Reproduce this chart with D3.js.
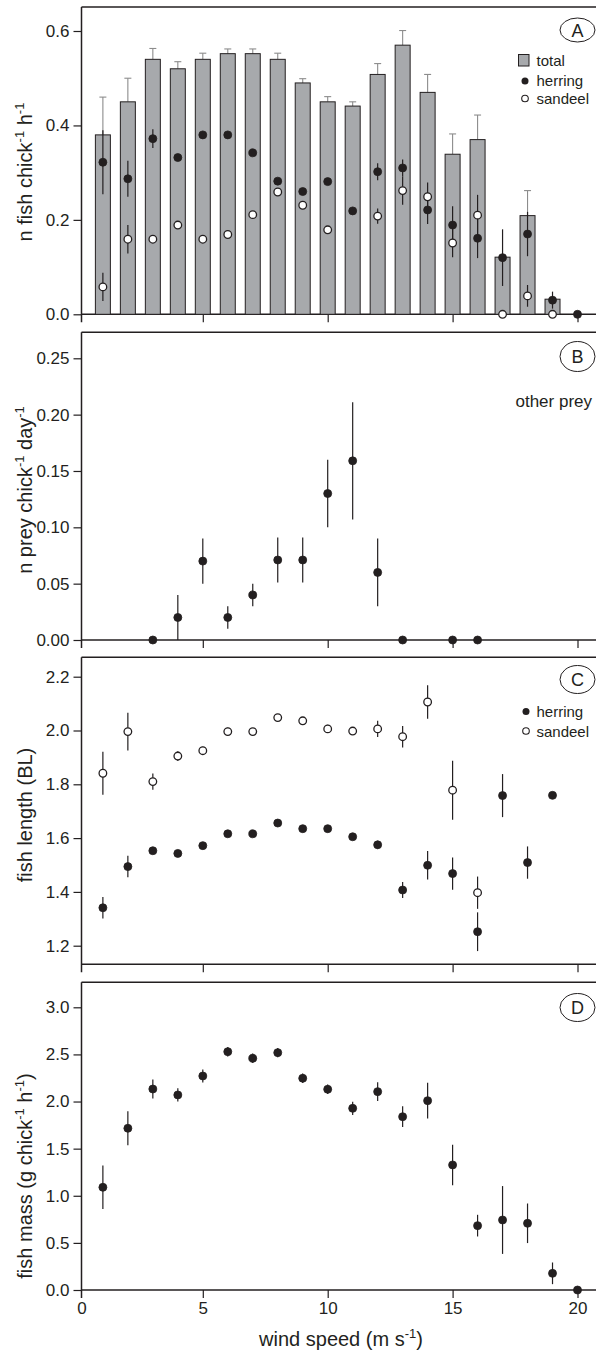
<!DOCTYPE html>
<html><head><meta charset="utf-8">
<script src="https://cdn.jsdelivr.net/npm/d3@7"></script>
<style>
html,body{margin:0;padding:0;background:#fff;}
svg{display:block;}
text{font-family:'Liberation Sans',Arial,Helvetica,sans-serif;fill:#231f20;}
</style></head>
<body>
<svg id="chart" width="596" height="1352"></svg>
<script>
// ---------- DATA ----------
// Panel A: total fish (bars, upper SE), herring and sandeel (points)
const totalWind = [1,2,3,4,5,6,7,8,9,10,11,12,13,14,15,16,17,18,19];
const totalMean = [0.38,0.45,0.54,0.52,0.54,0.552,0.552,0.54,0.49,0.45,0.441,0.508,0.57,0.47,0.339,0.37,0.121,0.209,0.032];
const totalErr  = [0.08,0.05,0.023,0.015,0.013,0.01,0.01,0.013,0.009,0.011,0.009,0.023,0.031,0.038,0.043,0.052,0,0.053,0];

const herringAWind = [1,2,3,4,5,6,7,8,9,10,11,12,13,14,15,16,17,18,19,20];
const herringAMean = [0.322,0.287,0.372,0.332,0.38,0.38,0.342,0.282,0.26,0.281,0.219,0.302,0.31,0.221,0.189,0.161,0.12,0.17,0.03,0.0];
const herringAErr  = [0.068,0.038,0.02,0.006,0.006,0.006,0.006,0.006,0.006,0.006,0.005,0.018,0.018,0.03,0.04,0.042,0.06,0.047,0.018,0];

const sandeelAWind = [1,2,3,4,5,6,7,8,9,10,12,13,14,15,16,17,18,19];
const sandeelAMean = [0.058,0.159,0.159,0.189,0.159,0.169,0.211,0.259,0.231,0.179,0.208,0.262,0.249,0.151,0.21,0.0,0.039,0.0];
const sandeelAErr  = [0.03,0.03,0.005,0.005,0.005,0.005,0.005,0.005,0.005,0.005,0.016,0.03,0.03,0.03,0.043,0,0.023,0];

// Panel B: other prey
const otherWind = [3,4,5,6,7,8,9,10,11,12,13,15,16];
const otherMean = [0,0.02,0.07,0.02,0.04,0.071,0.071,0.13,0.159,0.06,0,0,0];
const otherErr  = [0,0.02,0.02,0.01,0.01,0.02,0.02,0.03,0.052,0.03,0,0,0];

// Panel C: fish length (BL)
const herringLenWind = [1,2,3,4,5,6,7,8,9,10,11,12,13,14,15,16,17,18,19];
const herringLenMean = [1.341,1.494,1.553,1.543,1.572,1.616,1.616,1.656,1.635,1.635,1.605,1.575,1.407,1.499,1.468,1.252,1.758,1.509,1.759];
const herringLenErr  = [0.04,0.04,0.01,0.01,0.01,0.01,0.01,0.01,0.01,0.01,0.01,0.015,0.03,0.053,0.06,0.072,0.08,0.06,0];

const sandeelLenWind = [1,2,3,4,5,6,7,8,9,10,11,12,13,14,15,16];
const sandeelLenMean = [1.841,1.996,1.81,1.905,1.925,1.996,1.996,2.048,2.036,2.006,1.998,2.006,1.977,2.106,1.778,1.397];
const sandeelLenErr  = [0.08,0.07,0.03,0.018,0.015,0.015,0.01,0.005,0.005,0.015,0.012,0.03,0.04,0.062,0.11,0.06];

// Panel D: fish mass
const massWind = [1,2,3,4,5,6,7,8,9,10,11,12,13,14,15,16,17,18,19,20];
const massMean = [1.09,1.716,2.133,2.07,2.271,2.529,2.459,2.519,2.247,2.13,1.928,2.105,1.839,2.009,1.327,0.683,0.743,0.708,0.177,0.0];
const massErr  = [0.23,0.18,0.1,0.07,0.07,0.05,0.05,0.05,0.05,0.05,0.07,0.1,0.11,0.19,0.215,0.115,0.36,0.21,0.115,0];

// Ticks
const xTicks = [0,5,10,15,20];
const aTicks = [0,0.2,0.4,0.6];
const bTicks = [0,0.05,0.10,0.15,0.20,0.25];
const cTicks = [1.2,1.4,1.6,1.8,2.0,2.2];
const dTicks = [0,0.5,1.0,1.5,2.0,2.5,3.0];

// ---------- LAYOUT ----------
const INK = "#231f20";
const BARFILL = "#a7a9ac";
const svg = d3.select("#chart");
const W = 596;
const x = d3.scaleLinear().domain([0,20]).range([77.9,577.5]);
const axisLeftX = 81.5;

const zip = (xs, ms, es) => xs.map((w,i)=>({x:w, y:ms[i], e:es ? es[i] : 0}));

const panels = [
  {key:"A", y:d3.scaleLinear().domain([0,0.6]).range([314.3,31]), top:7, ticks:aTicks, fmt:d3.format(".1f"),
   label:[["n fish chick",0],["-1",1],[" h",0],["-1",1]], labelY:172, ry:12, cy:30},
  {key:"B", y:d3.scaleLinear().domain([0,0.25]).range([640,358.3]), top:332.3, ticks:bTicks, fmt:d3.format(".2f"),
   label:[["n prey chick",0],["-1",1],[" day",0],["-1",1]], labelY:490, ry:15, cy:356.5},
  {key:"C", y:d3.scaleLinear().domain([1.2,2.2]).range([945.7,676.7]), top:657.3, ticks:cTicks, fmt:d3.format(".1f"),
   label:[["fish length (BL)",0]], labelY:815, ry:14, cy:679.5},
  {key:"D", y:d3.scaleLinear().domain([0,3]).range([1290,1007.3]), top:982.3, ticks:dTicks, fmt:d3.format(".1f"),
   label:[["fish mass (g chick",0],["-1",1],[" h",0],["-1",1],[")",0]], labelY:1176, ry:14, cy:1007.5}
];
panels.forEach(p => { p.bottom = p.y(p.ticks[0] === 1.2 ? 1.131 : 0); });
panels[2].bottom = 964.3;

function addRotLabel(g, parts, cx, cy){
  const t = g.append("text").attr("transform",`translate(${cx},${cy}) rotate(-90)`)
    .attr("text-anchor","middle").style("font-size","20px");
  let shifted = false;
  parts.forEach(([s,sup]) => {
    const ts = t.append("tspan").text(s);
    if (sup) { ts.style("font-size","13px").attr("dy", shifted ? 0 : -8); shifted = true; }
    else { if (shifted) { ts.attr("dy", 8); shifted = false; } }
  });
}

function drawFrame(p){
  const g = svg.append("g");
  // top border
  g.append("line").attr("x1",axisLeftX).attr("x2",W).attr("y1",p.top).attr("y2",p.top)
    .attr("stroke",INK).attr("stroke-width",1.5);
  // bottom axis line
  g.append("line").attr("x1",axisLeftX).attr("x2",W).attr("y1",p.bottom).attr("y2",p.bottom)
    .attr("stroke",INK).attr("stroke-width",1.5);
  // left axis line, extended downward like a tick
  g.append("line").attr("x1",axisLeftX).attr("x2",axisLeftX).attr("y1",p.top).attr("y2",p.bottom+8)
    .attr("stroke",INK).attr("stroke-width",1.5);
  // y axis
  const ya = g.append("g").attr("transform",`translate(${axisLeftX},0)`)
    .call(d3.axisLeft(p.y).tickValues(p.ticks).tickFormat(p.fmt).tickSize(8).tickPadding(4));
  ya.select(".domain").remove();
  ya.selectAll("line").attr("stroke",INK).attr("stroke-width",1.2);
  ya.selectAll("text").style("font-size","17px").style("font-family","'Liberation Sans',Arial,sans-serif").attr("fill",INK);
  // x axis ticks
  const xa = g.append("g").attr("transform",`translate(0,${p.bottom})`)
    .call(d3.axisBottom(x).tickValues(xTicks).tickSize(8).tickPadding(4));
  xa.select(".domain").remove();
  xa.selectAll(".tick").filter(d => d === 0).select("line").remove();
  xa.selectAll("line").attr("stroke",INK).attr("stroke-width",1.2);
  if (p.key === "D") {
    xa.selectAll("text").style("font-size","17px").style("font-family","'Liberation Sans',Arial,sans-serif").attr("fill",INK);
    xa.selectAll(".tick").filter(d => d === 0).select("text").attr("x", axisLeftX - x(0));
  } else {
    xa.selectAll("text").remove();
  }
  // y label
  addRotLabel(g, p.label, 32, p.labelY);
  // panel letter
  g.append("ellipse").attr("cx",577.5).attr("cy",p.cy).attr("rx",17.5).attr("ry",p.ry)
    .attr("fill","none").attr("stroke",INK).attr("stroke-width",1);
  g.append("text").attr("x",577.5).attr("y",p.cy+6.5).attr("text-anchor","middle")
    .style("font-size","18px").text(p.key);
  return g;
}

function drawPoints(g, yScale, data, filled, r){
  g.append("g").selectAll("line").data(data.filter(d=>d.e>0)).join("line")
    .attr("x1",d=>x(d.x)).attr("x2",d=>x(d.x))
    .attr("y1",d=>yScale(d.y-d.e)).attr("y2",d=>yScale(d.y+d.e))
    .attr("stroke",INK).attr("stroke-width",1.2);
  g.append("g").selectAll("circle").data(data).join("circle")
    .attr("cx",d=>x(d.x)).attr("cy",d=>yScale(d.y)).attr("r",r)
    .attr("fill",filled?INK:"#fff").attr("stroke",INK).attr("stroke-width",filled?0.8:1.3);
}

// ---------- PANEL A ----------
{
  const p = panels[0];
  const g = drawFrame(p);
  const bars = zip(totalWind,totalMean,totalErr);
  const bw = x(0.3)-x(0);
  // error bars for totals (upper only)
  const eg = g.append("g");
  eg.selectAll("line.v").data(bars.filter(d=>d.e>0)).join("line")
    .attr("x1",d=>x(d.x)).attr("x2",d=>x(d.x)).attr("y1",d=>p.y(d.y)).attr("y2",d=>p.y(d.y+d.e))
    .attr("stroke","#8c8c8c").attr("stroke-width",1.1);
  eg.selectAll("line.c").data(bars.filter(d=>d.e>0)).join("line")
    .attr("x1",d=>x(d.x)-3.5).attr("x2",d=>x(d.x)+3.5).attr("y1",d=>p.y(d.y+d.e)).attr("y2",d=>p.y(d.y+d.e))
    .attr("stroke","#8c8c8c").attr("stroke-width",1.1);
  g.append("g").selectAll("rect").data(bars).join("rect")
    .attr("x",d=>x(d.x)-bw).attr("width",2*bw)
    .attr("y",d=>p.y(d.y)).attr("height",d=>p.y(0)-p.y(d.y))
    .attr("fill",BARFILL).attr("stroke",INK).attr("stroke-width",1);
  drawPoints(g, p.y, zip(herringAWind,herringAMean,herringAErr), true, 4);
  drawPoints(g, p.y, zip(sandeelAWind,sandeelAMean,sandeelAErr), false, 3.8);
  // legend
  const lg = g.append("g");
  lg.append("rect").attr("x",518.5).attr("y",54.5).attr("width",10.5).attr("height",11.5)
    .attr("fill",BARFILL).attr("stroke",INK).attr("stroke-width",1);
  lg.append("text").attr("x",536.5).attr("y",65.5).style("font-size","15px").text("total");
  lg.append("circle").attr("cx",525).attr("cy",81).attr("r",3.5).attr("fill",INK);
  lg.append("text").attr("x",536.5).attr("y",85.5).style("font-size","15px").text("herring");
  lg.append("circle").attr("cx",525).attr("cy",98.5).attr("r",3.3).attr("fill","#fff").attr("stroke",INK).attr("stroke-width",1.1);
  lg.append("text").attr("x",536.5).attr("y",103.5).style("font-size","15px").text("sandeel");
}

// ---------- PANEL B ----------
{
  const p = panels[1];
  const g = drawFrame(p);
  drawPoints(g, p.y, zip(otherWind,otherMean,otherErr), true, 4);
  g.append("text").attr("x",592).attr("y",407).attr("text-anchor","end").style("font-size","17px").text("other prey");
}

// ---------- PANEL C ----------
{
  const p = panels[2];
  const g = drawFrame(p);
  drawPoints(g, p.y, zip(herringLenWind,herringLenMean,herringLenErr), true, 4);
  drawPoints(g, p.y, zip(sandeelLenWind,sandeelLenMean,sandeelLenErr), false, 3.8);
  const lg = g.append("g");
  lg.append("circle").attr("cx",526).attr("cy",711.5).attr("r",3.5).attr("fill",INK);
  lg.append("text").attr("x",536.5).attr("y",716.5).style("font-size","15px").text("herring");
  lg.append("circle").attr("cx",526).attr("cy",731).attr("r",3.3).attr("fill","#fff").attr("stroke",INK).attr("stroke-width",1.1);
  lg.append("text").attr("x",536.5).attr("y",736.5).style("font-size","15px").text("sandeel");
}

// ---------- PANEL D ----------
{
  const p = panels[3];
  const g = drawFrame(p);
  drawPoints(g, p.y, zip(massWind,massMean,massErr), true, 4);
  // x axis title
  const t = g.append("text").attr("x",341).attr("y",1346).attr("text-anchor","middle").style("font-size","20px");
  t.append("tspan").text("wind speed (m s");
  t.append("tspan").text("-1").style("font-size","13px").attr("dy",-8);
  t.append("tspan").text(")").attr("dy",8);
}
</script>
</body></html>
